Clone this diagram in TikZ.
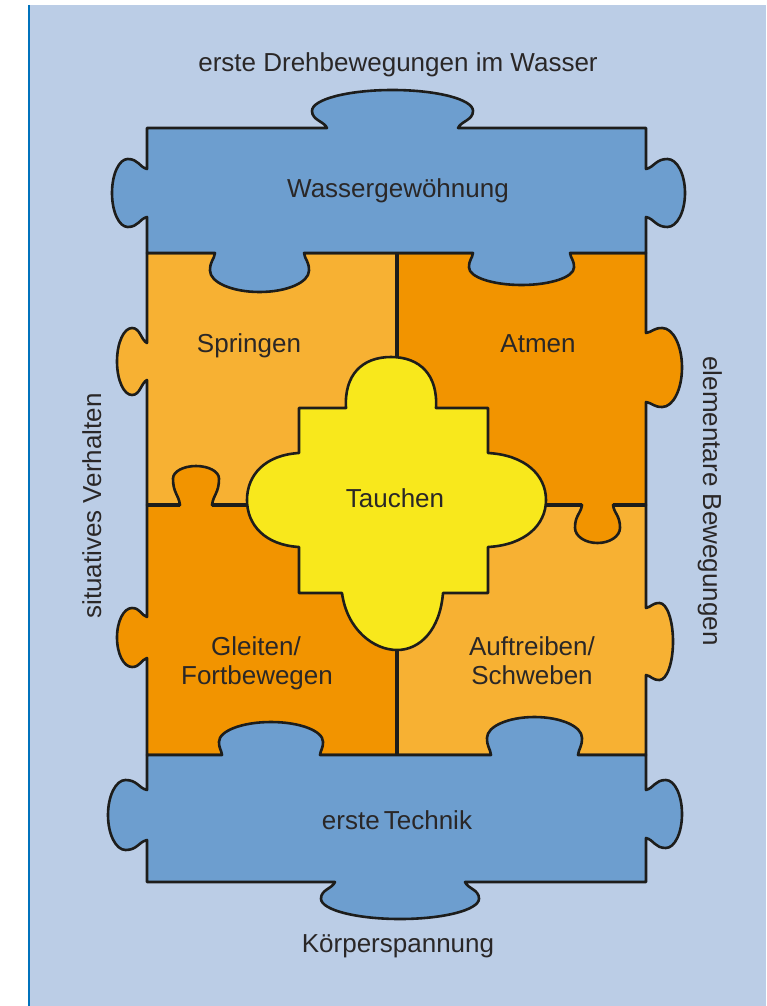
\documentclass[tikz,border=0pt]{standalone}
\usepackage{fontspec}
\setmainfont{Liberation Sans}
\definecolor{bgblue}{HTML}{BBCDE6}
\definecolor{lineblue}{HTML}{0072BC}
\definecolor{pblue}{HTML}{6D9ECF}
\definecolor{lightor}{HTML}{F7B133}
\definecolor{darkor}{HTML}{F29400}
\definecolor{yell}{HTML}{F8E81C}
\definecolor{outl}{HTML}{1D1D1B}
\definecolor{txt}{HTML}{2A2727}
% jigsaw knob: #1,#2 neck start; #3,#4 edge direction; #5 neck width; #6 depth; #7 overhang; #8 rel. position of widest part
\newcommand{\knob}[8]{%
 .. controls ({#1+(-0.2*#7)*(#3)+(0.4*#8*#6)*(#4)},{#2+(-0.2*#7)*(#4)-(0.4*#8*#6)*(#3)})
 and ({#1+(-#7)*(#3)+(0.45*#8*#6)*(#4)},{#2+(-#7)*(#4)-(0.45*#8*#6)*(#3)})
 .. ({#1+(-#7)*(#3)+(#8*#6)*(#4)},{#2+(-#7)*(#4)-(#8*#6)*(#3)})
 .. controls ({#1+(-#7)*(#3)+(#8*#6+0.552*(1-#8)*#6)*(#4)},{#2+(-#7)*(#4)-(#8*#6+0.552*(1-#8)*#6)*(#3)})
 and ({#1+(0.5*#5-0.552*(0.5*#5+#7))*(#3)+(#6)*(#4)},{#2+(0.5*#5-0.552*(0.5*#5+#7))*(#4)-(#6)*(#3)})
 .. ({#1+(0.5*#5)*(#3)+(#6)*(#4)},{#2+(0.5*#5)*(#4)-(#6)*(#3)})
 .. controls ({#1+(0.5*#5+0.552*(0.5*#5+#7))*(#3)+(#6)*(#4)},{#2+(0.5*#5+0.552*(0.5*#5+#7))*(#4)-(#6)*(#3)})
 and ({#1+(#5+#7)*(#3)+(#8*#6+0.552*(1-#8)*#6)*(#4)},{#2+(#5+#7)*(#4)-(#8*#6+0.552*(1-#8)*#6)*(#3)})
 .. ({#1+(#5+#7)*(#3)+(#8*#6)*(#4)},{#2+(#5+#7)*(#4)-(#8*#6)*(#3)})
 .. controls ({#1+(#5+#7)*(#3)+(0.45*#8*#6)*(#4)},{#2+(#5+#7)*(#4)-(0.45*#8*#6)*(#3)})
 and ({#1+(#5+0.2*#7)*(#3)+(0.4*#8*#6)*(#4)},{#2+(#5+0.2*#7)*(#4)-(0.4*#8*#6)*(#3)})
 .. ({#1+(#5)*(#3)},{#2+(#5)*(#4)})}
\tikzset{
  piece/.style={draw=outl, line width=2.6pt, line join=round},
  divider/.style={draw=outl, line width=3.8pt},
  lbl/.style={font=\fontsize{26}{29}\selectfont, text=txt, inner sep=0pt, anchor=base}
}
\begin{document}
\begin{tikzpicture}[x=1pt,y=-1pt]
\useasboundingbox (0,0) rectangle (766,1006);
\fill[bgblue] (28,5) rectangle (766,1006);
\draw[lineblue, line width=2pt] (28.5,5) -- (28.5,1006);

% Springen
\path[piece, fill=lightor] (147,253) -- (397,253) -- (397,505) -- (147,505) -- (147,380)
  \knob{147}{380}{0}{-1}{37}{30}{15}{0.5} -- cycle;
% Auftreiben / Schweben
\path[piece, fill=lightor] (397,505) -- (646,505) -- (646,608)
  \knob{646}{608}{0}{1}{67}{27}{5}{0.5} -- (646,755) -- (397,755) -- cycle;
% Atmen
\path[piece, fill=darkor] (397,253) -- (646,253) -- (646,333)
  \knob{646}{333}{0}{1}{69}{36}{5}{0.45} -- (646,505) -- (613,505)
  \knob{613}{505}{-1}{0}{31}{38}{7}{0.6} -- (397,505) -- cycle;
% Gleiten / Fortbewegen
\path[piece, fill=darkor] (147,505) -- (180,505)
  \knob{180}{505}{1}{0}{32}{39}{7}{0.68} -- (397,505) -- (397,755) -- (147,755) -- (147,658)
  \knob{147}{658}{0}{-1}{41}{30}{9}{0.5} -- cycle;

% inner dividers
\path[divider] (397,253) -- (397,755);
\path[divider] (147,505) -- (180,505) (212,505) -- (582,505) (613,505) -- (646,505);

% Tauchen
\path[piece, fill=yell] (346,408) .. controls (344,375) and (362,357) .. (391,357)
  .. controls (420,357) and (438,375) .. (436,408) -- (488,408) -- (488,453)
  .. controls (525,455) and (546,475) .. (546,500)
  .. controls (546,525) and (525,545) .. (488,547) -- (488,593) -- (443,593)
  .. controls (440,630) and (420,650) .. (397,650)
  .. controls (374,650) and (347,630) .. (342,593) -- (299,593) -- (299,547)
  .. controls (265,545) and (247,525) .. (247,500)
  .. controls (247,475) and (265,455) .. (299,453) -- (299,408) -- cycle;

% Wassergewoehnung
\path[piece, fill=pblue] (147,128) -- (327,128)
  \knob{327}{128}{1}{0}{131}{38}{15}{0.45} -- (646,128) -- (646,169)
  \knob{646}{169}{0}{1}{48}{39}{10}{0.55} -- (646,253) -- (570,253)
  \knob{570}{253}{-1}{0}{97}{32}{4}{0.45} -- (304,253)
  \knob{304}{253}{-1}{0}{89}{39}{5}{0.45} -- (147,253) -- (147,217)
  \knob{147}{217}{0}{-1}{48}{35}{10}{0.55} -- cycle;

% erste Technik
\path[piece, fill=pblue] (147,755) -- (222,755)
  \knob{222}{755}{1}{0}{98}{33}{3}{0.4} -- (491,755)
  \knob{491}{755}{1}{0}{87}{38}{4}{0.45} -- (646,755) -- (646,790)
  \knob{646}{790}{0}{1}{48}{36}{10}{0.55} -- (646,882) -- (465,882)
  \knob{465}{882}{-1}{0}{130}{37}{14}{0.45} -- (147,882) -- (147,840)
  \knob{147}{840}{0}{-1}{50}{39}{10}{0.55} -- cycle;

% labels
\node[lbl] (top) at (398,72) {erste Drehbewegungen im Wasser};
\node[lbl] (wg) at (398,197) {Wassergewöhnung};
\node[lbl] (sp) at (249,352) {Springen};
\node[lbl] (at) at (538,352) {Atmen};
\node[lbl] (ta) at (395,507) {Tauchen};
\node[lbl] (gl1) at (256,655) {Gleiten/};
\node[lbl] (gl2) at (257,684) {Fortbewegen};
\node[lbl] (au1) at (532,655) {Auftreiben/};
\node[lbl] (au2) at (532,684) {Schweben};
\node[lbl] (et) at (397,829) {erste \kern-0.12em Technik};
\node[lbl] (kp) at (398,952) {Körperspannung};
\node[lbl, rotate=90] (sv) at (101,506) {situatives Verhalten};
\node[lbl, rotate=-90] (eb) at (703,501) {elementare Bewegungen};
\end{tikzpicture}
\end{document}
